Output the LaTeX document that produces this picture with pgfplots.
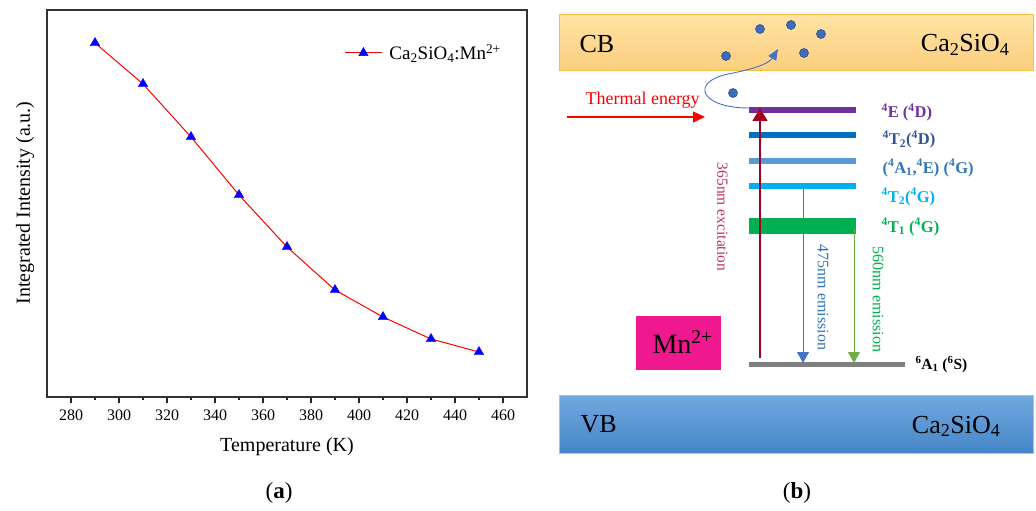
\documentclass[border=0pt]{standalone}
\usepackage{fontspec}
\setmainfont{Liberation Serif}
\usepackage{pgfplots}
\pgfplotsset{compat=1.18}
\usetikzlibrary{arrows.meta}
\newcommand{\fs}[1]{\fontsize{#1}{#1}\selectfont}

\definecolor{cbtop}{HTML}{FFE2A4}
\definecolor{cbbot}{HTML}{FBCF7E}
\definecolor{cbedge}{HTML}{F8C040}
\definecolor{vbtop}{HTML}{72A9DE}
\definecolor{vbbot}{HTML}{4585C8}
\definecolor{vbedge}{HTML}{9DC3E6}
\definecolor{mnpink}{HTML}{F0188E}
\definecolor{edot}{HTML}{3D6DB8}
\definecolor{edotdark}{HTML}{2A4F8C}
\definecolor{lvE}{HTML}{7030A0}
\definecolor{lvTD}{HTML}{0070C0}
\definecolor{lvAE}{HTML}{5B9BD5}
\definecolor{lvTG}{HTML}{00B0F0}
\definecolor{lvTone}{HTML}{00B050}
\definecolor{lvGround}{HTML}{7F7F7F}
\definecolor{txTD}{HTML}{2F5597}
\definecolor{txAE}{HTML}{2E75B6}
\definecolor{excit}{HTML}{A50021}
\definecolor{excittxt}{HTML}{C0306A}
\definecolor{emblue}{HTML}{4472C4}
\definecolor{emgreen}{HTML}{70AD47}

\tikzset{electron/.style={fill=edot, draw=edotdark, line width=0.6pt}}

\begin{document}
\begin{tikzpicture}[x=1pt,y=1pt]
% ---------- (a) integrated intensity versus temperature ----------
\begin{axis}[
  at={(47pt,114pt)}, anchor=south west, scale only axis,
  width=480pt, height=387pt,
  xmin=270, xmax=470, ymin=0, ymax=387,
  xtick={280,300,...,460}, minor x tick num=1,
  ytick=\empty,
  xtick pos=bottom, tick align=outside,
  major tick length=6pt, minor tick length=3pt,
  every tick/.style={black!85, line width=1.2pt},
  axis line style={line width=1.3pt, black!80},
  tick label style={font=\fs{16}},
  xticklabel style={yshift=-3pt},
  /pgf/number format/assume math mode=true,
  /pgf/number format/1000 sep={},
  legend style={draw=none, fill=none, at={(axis description cs:0.613,0.889)},
    anchor=west, font=\fs{19},
    /tikz/every odd column/.append style={column sep=5pt}},
  legend image code/.code={%
    \draw[mark repeat=2,mark phase=2,#1] plot coordinates {(0pt,0pt) (18.5pt,0pt) (37pt,0pt)};},
]
\addplot[red, line width=1pt, mark=triangle*, mark size=5.5pt,
  mark options={draw=blue, fill=blue, line width=0.4pt}]
  coordinates {(290,354) (310,313) (330,260) (350,202) (370,150)
               (390,107) (410,80) (430,58) (450,45)};
\addlegendentry{Ca\textsubscript{2}SiO\textsubscript{4}:Mn\textsuperscript{2+}}
\end{axis}
\node[font=\fs{20}] at (287,64) {Temperature (K)};
\node[font=\fs{20}, rotate=90] at (25,308) {Integrated Intensity (a.u.)};
\node[font=\fs{23}] at (279,18) {(\textbf{a})};
\node[font=\fs{23}] at (797,18) {(\textbf{b})};

% ---------- (b) energy level scheme of Mn2+ in Ca2SiO4 ----------
\begin{axis}[
  at={(540pt,0pt)}, anchor=south west, scale only axis,
  width=496pt, height=511pt,
  xmin=540, xmax=1036, ymin=0, ymax=511, y dir=reverse,
  hide axis, clip=false,
]
% conduction and valence bands
\shade[top color=cbtop, bottom color=cbbot] (559,15) rectangle (1033,71);
\draw[cbedge, line width=1pt] (559,15) rectangle (1033,71);
\shade[top color=vbtop, bottom color=vbbot] (559,395) rectangle (1033,453);
\draw[vbedge, line width=1pt] (559,395) rectangle (1033,453);
\node[anchor=base west, font=\fs{26}] at (576,53) {CB};
\node[anchor=base east, font=\fs{26}] at (1013,52) {Ca\textsubscript{2}SiO\textsubscript{4}};
\node[anchor=base west, font=\fs{26}] at (577,432) {VB};
\node[anchor=base east, font=\fs{26}] at (1004,433) {Ca\textsubscript{2}SiO\textsubscript{4}};

% Mn2+ tag
\fill[mnpink] (636,316) rectangle (721,370);
\node[anchor=base west, font=\fs{28}] at (649,353) {Mn\textsuperscript{2+}};

% energy levels
\addplot[lvE, line width=6pt] coordinates {(749,110) (856,110)};
\addplot[lvTD, line width=6pt] coordinates {(749,135) (856,135)};
\addplot[lvAE, line width=6pt] coordinates {(749,161) (856,161)};
\addplot[lvTG, line width=6pt] coordinates {(749,186) (856,186)};
\addplot[lvTone, line width=16pt] coordinates {(749,226) (856,226)};
\addplot[lvGround, line width=5pt] coordinates {(749,364.5) (905,364.5)};

\node[anchor=base west, font=\bfseries\fs{16.5}, text=lvE] at (878,118)
  {\textsuperscript{4}E (\textsuperscript{4}D)};
\node[anchor=base west, font=\bfseries\fs{16.5}, text=txTD] at (879,145)
  {\textsuperscript{4}T\textsubscript{2}(\textsuperscript{4}D)};
\node[anchor=base west, font=\bfseries\fs{16.5}, text=txAE] at (879,173)
  {(\textsuperscript{4}A\textsubscript{1},\textsuperscript{4}E) (\textsuperscript{4}G)};
\node[anchor=base west, font=\bfseries\fs{16.5}, text=lvTG] at (878,202)
  {\textsuperscript{4}T\textsubscript{2}(\textsuperscript{4}G)};
\node[anchor=base west, font=\bfseries\fs{16.5}, text=lvTone] at (878,232)
  {\textsuperscript{4}T\textsubscript{1} (\textsuperscript{4}G)};
\node[anchor=base west, font=\bfseries\fs{15.5}] at (912,369)
  {\textsuperscript{6}A\textsubscript{1} (\textsuperscript{6}S)};

% electrons in the conduction band
\filldraw[electron] (760,29) circle[radius=4.5pt];
\filldraw[electron] (791,25) circle[radius=4.5pt];
\filldraw[electron] (821,34) circle[radius=4.5pt];
\filldraw[electron] (726,56) circle[radius=4.5pt];
\filldraw[electron] (804,53) circle[radius=4.5pt];
\filldraw[electron] (733,93) circle[radius=4.5pt];

% thermal promotion path
\draw[emblue, line width=0.9pt, -{Triangle[length=11pt,width=9pt]}]
  (749,108) .. controls (700,108) and (690,82) .. (728,74)
  .. controls (760,68) and (770,62) .. (778,49);
\draw[red, line width=1.4pt, -{Triangle[length=12pt,width=11pt]}] (567,117) -- (705,117);
\node[anchor=base west, font=\fs{18}, text=red] at (582,105) {Thermal energy};

% excitation and emission transitions
\draw[excit, line width=1.4pt, -{Triangle[length=13pt,width=15pt]}] (760,358) -- (760,108);
\draw[emblue, line width=0.9pt, -{Triangle[length=11pt,width=12pt]}] (803,186) -- (803,363);
\draw[emgreen, line width=0.9pt, -{Triangle[length=11pt,width=12pt]}] (854,229) -- (854,363);
\node[rotate=-90, font=\fs{15.5}, text=excittxt] at (722.5,217) {365nm excitation};
\node[rotate=-90, font=\fs{16}, text=txAE] at (823,297.5) {475nm emission};
\node[rotate=-90, font=\fs{16}, text=lvTone] at (878,299.5) {560nm emission};
\end{axis}
\pgfresetboundingbox
\path (0,0) rectangle (1036,511);
\end{tikzpicture}
\end{document}
